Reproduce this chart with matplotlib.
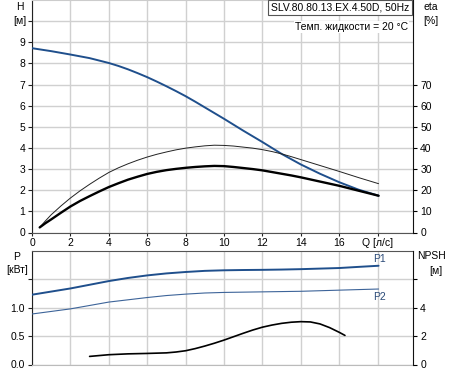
import numpy as np
import matplotlib
matplotlib.use('Agg')
import matplotlib.pyplot as plt

plt.rcParams['font.family'] = ['Liberation Sans', 'DejaVu Sans']
plt.rcParams['font.size'] = 7.5
plt.rcParams['lines.solid_joinstyle'] = 'round'
plt.rcParams['lines.solid_capstyle'] = 'round'

# --- dados ---
q_h = [0, 1, 2, 3, 4, 4.5, 5, 5.5, 6, 6.5, 7, 7.5, 8, 8.5, 9, 9.5, 10, 11, 12,
       13, 14, 15, 16, 17, 18.05]
h = [8.72, 8.58, 8.42, 8.25, 8.02, 7.88, 7.72, 7.54, 7.35, 7.14, 6.92, 6.69,
     6.45, 6.19, 5.92, 5.65, 5.38, 4.82, 4.28, 3.72, 3.22, 2.78, 2.38, 2.03, 1.74]

q_eta = [0.4, 0.7, 1, 1.5, 2, 2.5, 3, 3.5, 4, 4.5, 5, 5.5, 6, 6.5, 7, 7.5, 8, 8.5,
         9, 9.5, 10, 10.5, 11, 11.5, 12, 12.5, 13, 13.5, 14, 15, 16, 17, 18.05]
eta_pump = [2.4, 4.4, 6.2, 9.3, 12.3, 14.9, 17.2, 19.4, 21.5, 23.3, 25.0, 26.4,
            27.7, 28.7, 29.5, 30.1, 30.6, 31.0, 31.3, 31.5, 31.4, 31.0, 30.5, 30.0,
            29.4, 28.6, 27.8, 27.0, 26.1, 24.1, 22.1, 19.8, 17.4]
eta_total = [2.4, 5.5, 8.4, 12.5, 16.3, 19.7, 22.8, 25.7, 28.4, 30.6, 32.5, 34.2,
             35.7, 37.0, 38.1, 39.1, 39.9, 40.5, 41.0, 41.3, 41.2, 40.9, 40.4, 39.9,
             39.2, 38.3, 37.2, 35.9, 34.5, 31.7, 28.9, 26.0, 23.1]

q_p = [0, 1, 2, 3, 4, 5, 6, 7, 8, 9, 10, 11, 12, 13, 14, 15, 16, 17, 18.05]
p1 = [1.23, 1.285, 1.34, 1.405, 1.47, 1.525, 1.57, 1.605, 1.63, 1.65, 1.66, 1.665,
      1.668, 1.673, 1.68, 1.69, 1.70, 1.72, 1.74]
p2 = [0.89, 0.935, 0.98, 1.04, 1.10, 1.14, 1.18, 1.215, 1.24, 1.26, 1.27, 1.275,
      1.28, 1.285, 1.29, 1.30, 1.31, 1.32, 1.33]

q_npsh = [3, 4, 5, 6, 7, 7.5, 8, 8.5, 9, 9.5, 10, 10.5, 11, 11.5, 12, 12.5, 13,
          13.5, 14, 14.5, 15, 15.5, 16, 16.3]
npsh = [0.57, 0.69, 0.75, 0.78, 0.82, 0.88, 0.97, 1.12, 1.30, 1.50, 1.72, 1.96,
        2.2, 2.43, 2.63, 2.78, 2.9, 2.98, 3.02, 3.0, 2.86, 2.6, 2.27, 2.05]

q_ticks = [0, 2, 4, 6, 8, 10, 12, 14, 16, 18]
q_labels = ['0', '2', '4', '6', '8', '10', '12', '14', '16', 'Q [л/с]']

azul = '#1f4f8c'
grade = '#d0d0d0'
W, H = 453, 373

fig = plt.figure(figsize=(W / 100, H / 100), dpi=100)


def fx(px):
    return px / W


def fy(py):
    return 1 - py / H


def estilo(ax, ylim, yticks, ylabels, top_color, bottom_color):
    ax.set_xlim(0, 19.86)
    ax.set_ylim(*ylim)
    ax.set_xticks(q_ticks)
    ax.set_yticks(yticks)
    ax.set_yticklabels(ylabels)
    ax.grid(True, color=grade, linewidth=1.0)
    ax.set_axisbelow(True)
    ax.spines['left'].set_color('#222222')
    ax.spines['right'].set_visible(False)
    ax.spines['top'].set_color(top_color)
    ax.spines['bottom'].set_color(bottom_color)
    ax.tick_params(length=3, width=0.8, pad=2, colors='#222222', labelcolor='black')


# ---- painel superior: H e eta ----
ax1 = fig.add_axes([fx(32), fy(232.5), fx(413.3 - 32), fy(0) - fy(232.5)])
estilo(ax1, (0, 11), range(0, 11), [str(i) for i in range(10)] + [''],
       '#cccccc', '#555555')
ax1.set_xticklabels(q_labels)
ax1.tick_params(axis='x', length=2)

ax1b = ax1.twinx()
ax1b.set_ylim(0, 110)
ax1b.set_yticks(range(0, 80, 10))
for s in ['left', 'top', 'bottom']:
    ax1b.spines[s].set_visible(False)
ax1b.spines['right'].set_color('#111111')
ax1b.tick_params(length=3, width=0.8, pad=2, labelcolor='black')

ax1.plot(q_h, h, color=azul, linewidth=1.4, zorder=4)
ax1b.plot(q_eta, eta_total, color='#222222', linewidth=0.7, zorder=3)
ax1b.plot(q_eta, eta_pump, color='black', linewidth=1.7, zorder=3)

fig.text(fx(20), fy(7), 'H', ha='center', va='center')
fig.text(fx(20), fy(21), '[м]', ha='center', va='center')
fig.text(fx(431), fy(7), 'eta', ha='center', va='center')
fig.text(fx(431), fy(21), '[%]', ha='center', va='center')

ax1.text(fx(271), fy(7.5), 'SLV.80.80.13.EX.4.50D, 50Hz', transform=fig.transFigure,
         ha='left', va='center',
         bbox=dict(boxstyle='square,pad=0.25', facecolor='white', edgecolor='#555555',
                   linewidth=0.8))
ax1.text(fx(408), fy(27), 'Темп. жидкости = 20 °C', transform=fig.transFigure,
         ha='right', va='center',
         bbox=dict(boxstyle='square,pad=0.1', facecolor='white', edgecolor='none'))

# ---- painel inferior: P e NPSH ----
ax2 = fig.add_axes([fx(32), fy(364.5), fx(413.3 - 32), fy(251) - fy(364.5)])
estilo(ax2, (0, 2), [0, 0.5, 1.0, 1.5], ['0.0', '0.5', '1.0', ''],
       '#555555', '#bbbbbb')
ax2.tick_params(axis='x', length=0, labelbottom=False)

ax2b = ax2.twinx()
ax2b.set_ylim(0, 8)
ax2b.set_yticks([0, 2, 4, 6])
ax2b.set_yticklabels(['0', '2', '4', ''])
for s in ['left', 'top', 'bottom']:
    ax2b.spines[s].set_visible(False)
ax2b.spines['right'].set_color('#111111')
ax2b.tick_params(length=3, width=0.8, pad=2, labelcolor='black')

ax2.plot(q_p, p1, color=azul, linewidth=1.4, zorder=4)
ax2.plot(q_p, p2, color='#3d6499', linewidth=0.8, zorder=4)
ax2b.plot(q_npsh, npsh, color='black', linewidth=1.2, zorder=3)

ax2.annotate('P1', xy=(q_p[-1], p1[-1]), xytext=(-4, 5), textcoords='offset points',
             ha='left', va='center', color='#2a4a78')
ax2.annotate('P2', xy=(q_p[-1], p2[-1]), xytext=(-4, -6), textcoords='offset points',
             ha='left', va='center', color='#2a4a78')

fig.text(fx(17), fy(257), 'P', ha='center', va='center')
fig.text(fx(17), fy(270), '[кВт]', ha='center', va='center')
fig.text(fx(432), fy(256), 'NPSH', ha='center', va='center')
fig.text(fx(436), fy(271), '[м]', ha='center', va='center')

fig.savefig('out.png', dpi=100)
plt.close(fig)
